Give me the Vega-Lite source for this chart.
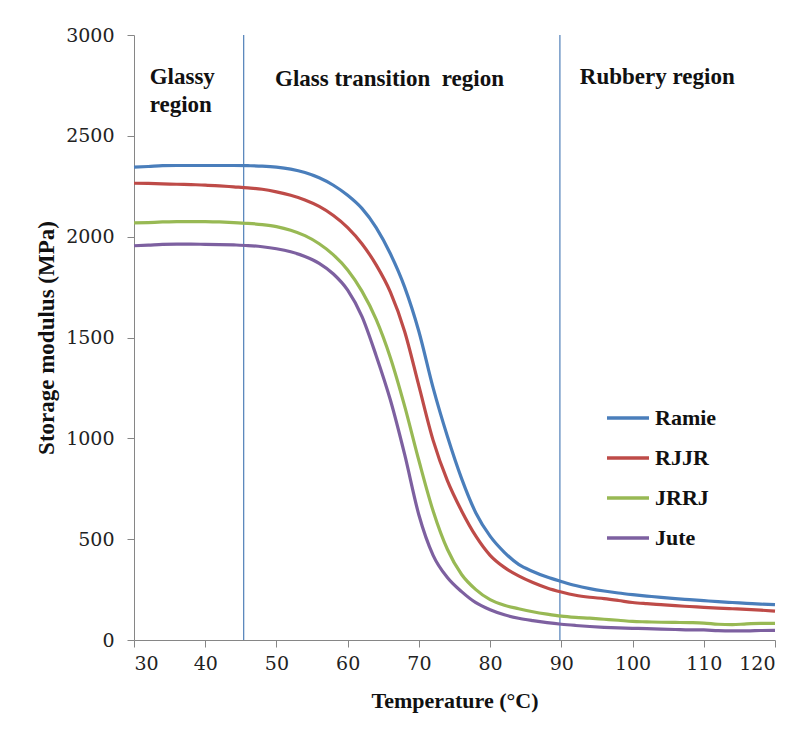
{
  "$schema": "https://vega.github.io/schema/vega-lite/v6.json",
  "width": 641,
  "height": 605,
  "autosize": {"type": "none"},
  "padding": {"left": 134, "top": 35, "right": 25, "bottom": 89},
  "background": "white",
  "config": {
    "view": {"stroke": null},
    "font": "Liberation Serif",
    "axis": {
      "grid": false,
      "domainColor": "#868686",
      "tickColor": "#868686",
      "tickSize": 7
    }
  },
  "datasets": {
    "curves": [
      {"T":30,"V":2345,"s":"Ramie"},{"T":32,"V":2348,"s":"Ramie"},{"T":34,"V":2352,"s":"Ramie"},{"T":36,"V":2353,"s":"Ramie"},{"T":38,"V":2353,"s":"Ramie"},{"T":40,"V":2353,"s":"Ramie"},{"T":42,"V":2353,"s":"Ramie"},{"T":44,"V":2353,"s":"Ramie"},{"T":46,"V":2352,"s":"Ramie"},{"T":48,"V":2350,"s":"Ramie"},{"T":50,"V":2345,"s":"Ramie"},{"T":52,"V":2335,"s":"Ramie"},{"T":54,"V":2318,"s":"Ramie"},{"T":56,"V":2292,"s":"Ramie"},{"T":58,"V":2255,"s":"Ramie"},{"T":60,"V":2205,"s":"Ramie"},{"T":62,"V":2140,"s":"Ramie"},{"T":64,"V":2045,"s":"Ramie"},{"T":66,"V":1915,"s":"Ramie"},{"T":68,"V":1750,"s":"Ramie"},{"T":70,"V":1530,"s":"Ramie"},{"T":72,"V":1250,"s":"Ramie"},{"T":74,"V":1010,"s":"Ramie"},{"T":76,"V":800,"s":"Ramie"},{"T":78,"V":630,"s":"Ramie"},{"T":80,"V":515,"s":"Ramie"},{"T":82,"V":435,"s":"Ramie"},{"T":84,"V":375,"s":"Ramie"},{"T":86,"V":340,"s":"Ramie"},{"T":88,"V":312,"s":"Ramie"},{"T":90,"V":290,"s":"Ramie"},{"T":92,"V":270,"s":"Ramie"},{"T":94,"V":255,"s":"Ramie"},{"T":96,"V":243,"s":"Ramie"},{"T":98,"V":233,"s":"Ramie"},{"T":100,"V":225,"s":"Ramie"},{"T":102,"V":218,"s":"Ramie"},{"T":104,"V":211,"s":"Ramie"},{"T":106,"V":205,"s":"Ramie"},{"T":108,"V":200,"s":"Ramie"},{"T":110,"V":195,"s":"Ramie"},{"T":112,"V":190,"s":"Ramie"},{"T":114,"V":186,"s":"Ramie"},{"T":116,"V":182,"s":"Ramie"},{"T":118,"V":178,"s":"Ramie"},{"T":120,"V":175,"s":"Ramie"},
      {"T":30,"V":2265,"s":"RJJR"},{"T":32,"V":2264,"s":"RJJR"},{"T":34,"V":2262,"s":"RJJR"},{"T":36,"V":2260,"s":"RJJR"},{"T":38,"V":2258,"s":"RJJR"},{"T":40,"V":2256,"s":"RJJR"},{"T":42,"V":2252,"s":"RJJR"},{"T":44,"V":2247,"s":"RJJR"},{"T":46,"V":2242,"s":"RJJR"},{"T":48,"V":2235,"s":"RJJR"},{"T":50,"V":2222,"s":"RJJR"},{"T":52,"V":2205,"s":"RJJR"},{"T":54,"V":2182,"s":"RJJR"},{"T":56,"V":2150,"s":"RJJR"},{"T":58,"V":2105,"s":"RJJR"},{"T":60,"V":2045,"s":"RJJR"},{"T":62,"V":1965,"s":"RJJR"},{"T":64,"V":1860,"s":"RJJR"},{"T":66,"V":1725,"s":"RJJR"},{"T":68,"V":1530,"s":"RJJR"},{"T":70,"V":1260,"s":"RJJR"},{"T":72,"V":990,"s":"RJJR"},{"T":74,"V":790,"s":"RJJR"},{"T":76,"V":640,"s":"RJJR"},{"T":78,"V":515,"s":"RJJR"},{"T":80,"V":420,"s":"RJJR"},{"T":82,"V":360,"s":"RJJR"},{"T":84,"V":318,"s":"RJJR"},{"T":86,"V":285,"s":"RJJR"},{"T":88,"V":258,"s":"RJJR"},{"T":90,"V":238,"s":"RJJR"},{"T":92,"V":222,"s":"RJJR"},{"T":94,"V":212,"s":"RJJR"},{"T":96,"V":205,"s":"RJJR"},{"T":98,"V":196,"s":"RJJR"},{"T":100,"V":186,"s":"RJJR"},{"T":102,"V":180,"s":"RJJR"},{"T":104,"V":175,"s":"RJJR"},{"T":106,"V":170,"s":"RJJR"},{"T":108,"V":166,"s":"RJJR"},{"T":110,"V":162,"s":"RJJR"},{"T":112,"V":158,"s":"RJJR"},{"T":114,"V":155,"s":"RJJR"},{"T":116,"V":152,"s":"RJJR"},{"T":118,"V":148,"s":"RJJR"},{"T":120,"V":143,"s":"RJJR"},
      {"T":30,"V":2068,"s":"JRRJ"},{"T":32,"V":2070,"s":"JRRJ"},{"T":34,"V":2073,"s":"JRRJ"},{"T":36,"V":2075,"s":"JRRJ"},{"T":38,"V":2075,"s":"JRRJ"},{"T":40,"V":2075,"s":"JRRJ"},{"T":42,"V":2073,"s":"JRRJ"},{"T":44,"V":2070,"s":"JRRJ"},{"T":46,"V":2066,"s":"JRRJ"},{"T":48,"V":2060,"s":"JRRJ"},{"T":50,"V":2050,"s":"JRRJ"},{"T":52,"V":2032,"s":"JRRJ"},{"T":54,"V":2005,"s":"JRRJ"},{"T":56,"V":1965,"s":"JRRJ"},{"T":58,"V":1910,"s":"JRRJ"},{"T":60,"V":1835,"s":"JRRJ"},{"T":62,"V":1730,"s":"JRRJ"},{"T":64,"V":1590,"s":"JRRJ"},{"T":66,"V":1400,"s":"JRRJ"},{"T":68,"V":1160,"s":"JRRJ"},{"T":70,"V":890,"s":"JRRJ"},{"T":72,"V":640,"s":"JRRJ"},{"T":74,"V":450,"s":"JRRJ"},{"T":76,"V":325,"s":"JRRJ"},{"T":78,"V":250,"s":"JRRJ"},{"T":80,"V":200,"s":"JRRJ"},{"T":82,"V":172,"s":"JRRJ"},{"T":84,"V":155,"s":"JRRJ"},{"T":86,"V":140,"s":"JRRJ"},{"T":88,"V":128,"s":"JRRJ"},{"T":90,"V":118,"s":"JRRJ"},{"T":92,"V":112,"s":"JRRJ"},{"T":94,"V":108,"s":"JRRJ"},{"T":96,"V":103,"s":"JRRJ"},{"T":98,"V":98,"s":"JRRJ"},{"T":100,"V":92,"s":"JRRJ"},{"T":102,"V":90,"s":"JRRJ"},{"T":104,"V":88,"s":"JRRJ"},{"T":106,"V":87,"s":"JRRJ"},{"T":108,"V":86,"s":"JRRJ"},{"T":110,"V":84,"s":"JRRJ"},{"T":112,"V":78,"s":"JRRJ"},{"T":114,"V":76,"s":"JRRJ"},{"T":116,"V":80,"s":"JRRJ"},{"T":118,"V":82,"s":"JRRJ"},{"T":120,"V":82,"s":"JRRJ"},
      {"T":30,"V":1955,"s":"Jute"},{"T":32,"V":1958,"s":"Jute"},{"T":34,"V":1962,"s":"Jute"},{"T":36,"V":1963,"s":"Jute"},{"T":38,"V":1963,"s":"Jute"},{"T":40,"V":1962,"s":"Jute"},{"T":42,"V":1961,"s":"Jute"},{"T":44,"V":1959,"s":"Jute"},{"T":46,"V":1956,"s":"Jute"},{"T":48,"V":1950,"s":"Jute"},{"T":50,"V":1940,"s":"Jute"},{"T":52,"V":1925,"s":"Jute"},{"T":54,"V":1902,"s":"Jute"},{"T":56,"V":1868,"s":"Jute"},{"T":58,"V":1815,"s":"Jute"},{"T":60,"V":1735,"s":"Jute"},{"T":62,"V":1605,"s":"Jute"},{"T":64,"V":1410,"s":"Jute"},{"T":66,"V":1190,"s":"Jute"},{"T":68,"V":920,"s":"Jute"},{"T":70,"V":620,"s":"Jute"},{"T":72,"V":420,"s":"Jute"},{"T":74,"V":310,"s":"Jute"},{"T":76,"V":240,"s":"Jute"},{"T":78,"V":185,"s":"Jute"},{"T":80,"V":150,"s":"Jute"},{"T":82,"V":125,"s":"Jute"},{"T":84,"V":108,"s":"Jute"},{"T":86,"V":96,"s":"Jute"},{"T":88,"V":86,"s":"Jute"},{"T":90,"V":78,"s":"Jute"},{"T":92,"V":72,"s":"Jute"},{"T":94,"V":67,"s":"Jute"},{"T":96,"V":63,"s":"Jute"},{"T":98,"V":60,"s":"Jute"},{"T":100,"V":58,"s":"Jute"},{"T":102,"V":56,"s":"Jute"},{"T":104,"V":54,"s":"Jute"},{"T":106,"V":52,"s":"Jute"},{"T":108,"V":50,"s":"Jute"},{"T":110,"V":50,"s":"Jute"},{"T":112,"V":46,"s":"Jute"},{"T":114,"V":45,"s":"Jute"},{"T":116,"V":45,"s":"Jute"},{"T":118,"V":47,"s":"Jute"},{"T":120,"V":48,"s":"Jute"}
    ],
    "bounds": [{"T": 45.4}, {"T": 89.8}],
    "labels": [
      {"label": "Glassy", "T": 32.2, "V": 2790},
      {"label": "region", "T": 32.2, "V": 2655},
      {"label": "Glass transition\u00a0\u00a0region", "T": 49.8, "V": 2780},
      {"label": "Rubbery region", "T": 92.6, "V": 2790}
    ]
  },
  "layer": [
    {
      "data": {"name": "bounds"},
      "mark": {"type": "rule", "color": "#4f7fb8", "strokeWidth": 1.2},
      "encoding": {
        "x": {"field": "T", "type": "quantitative", "scale": {"domain": [30, 120], "nice": false}}
      }
    },
    {
      "data": {"name": "curves"},
      "mark": {"type": "line", "strokeWidth": 3.2, "interpolate": "monotone"},
      "encoding": {
        "x": {
          "field": "T", "type": "quantitative",
          "scale": {"domain": [30, 120], "nice": false},
          "axis": {
            "values": [30,40,50,60,70,80,90,100,110,120], "format": "d",
            "title": "Temperature (°C)",
            "labelFont": "DejaVu Serif", "labelFontSize": 19, "labelColor": "#222222", "labelPadding": 7,
            "titleFont": "Liberation Serif", "titleFontSize": 22, "titleFontWeight": "bold", "titleColor": "#111111", "titlePadding": 17
          }
        },
        "y": {
          "field": "V", "type": "quantitative",
          "scale": {"domain": [0, 3000], "nice": false},
          "axis": {
            "values": [0,500,1000,1500,2000,2500,3000], "format": "d",
            "title": "Storage modulus (MPa)",
            "labelFont": "DejaVu Serif", "labelFontSize": 19, "labelColor": "#222222", "labelPadding": 13,
            "titleFont": "Liberation Serif", "titleFontSize": 23, "titleFontWeight": "bold", "titleColor": "#111111", "titlePadding": 7
          }
        },
        "color": {
          "field": "s", "type": "nominal",
          "scale": {"domain": ["Ramie", "RJJR", "JRRJ", "Jute"], "range": ["#4a7ebb", "#be4b48", "#98b954", "#7d60a0"]},
          "legend": {
            "title": null,
            "orient": "none",
            "legendX": 471,
            "legendY": 360,
            "symbolType": "stroke",
            "symbolSize": 1764,
            "symbolStrokeWidth": 3.5,
            "labelFont": "Liberation Serif",
            "labelFontSize": 22,
            "labelFontWeight": "bold",
            "labelColor": "#111111",
            "labelOffset": 4,
            "rowPadding": 6
          }
        }
      }
    },
    {
      "data": {"name": "labels"},
      "mark": {"type": "text", "align": "left", "baseline": "middle", "font": "Liberation Serif", "fontSize": 23, "fontWeight": "bold", "color": "#111111"},
      "encoding": {
        "x": {"field": "T", "type": "quantitative"},
        "y": {"field": "V", "type": "quantitative"},
        "text": {"field": "label"}
      }
    }
  ]
}
